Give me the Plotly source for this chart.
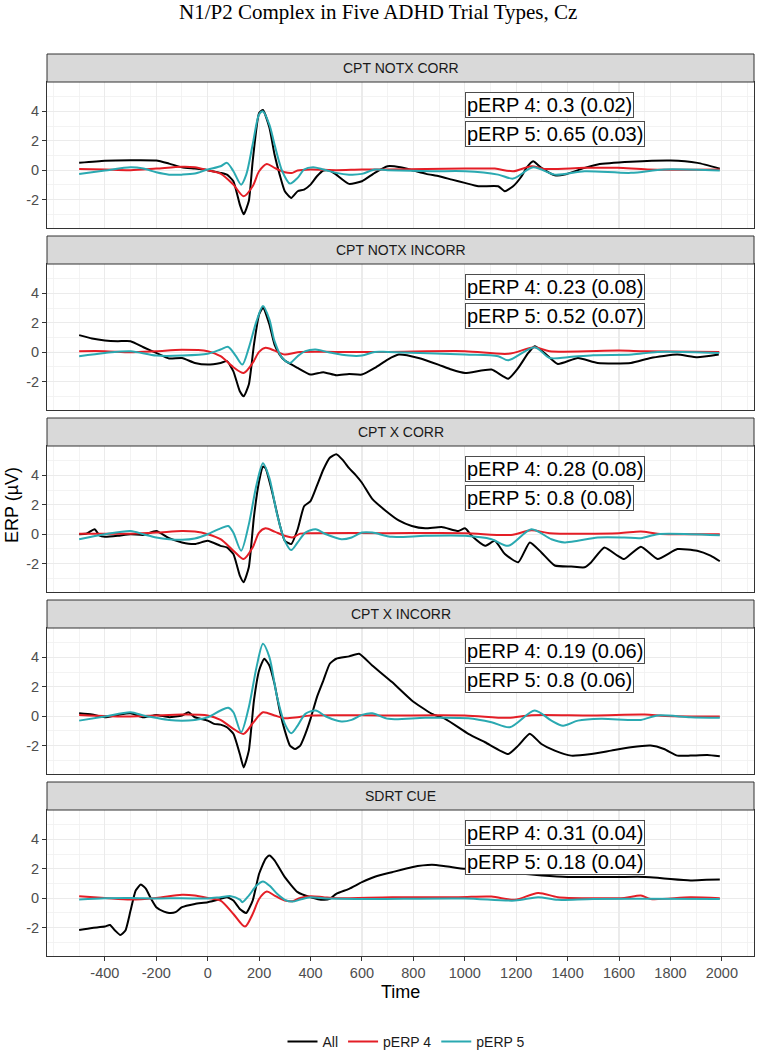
import plotly.graph_objects as go

# ---------------- data ----------------
PANELS = ["CPT NOTX CORR", "CPT NOTX INCORR", "CPT X CORR", "CPT X INCORR", "SDRT CUE"]
SERIES = ["All", "pERP 4", "pERP 5"]
X_TICKS = [-400, -200, 0, 200, 400, 600, 800, 1000, 1200, 1400, 1600, 1800, 2000]
Y_TICKS = [-2, 0, 2, 4]

# Panel 1: CPT NOTX CORR
NOTXC_ALL_T = [-500,-400,-300,-200,-150,-100,-50,0,50,75,100,125,140,160,175,200,215,240,260,280,300,325,350,375,400,425,450,475,500,550,600,650,700,750,800,850,900,950,1000,1053,1130,1156,1188,1221,1240,1266,1298,1350,1388,1466,1517,1646,1801,1905,1992]
NOTXC_ALL_V = [0.5,0.64,0.68,0.66,0.45,0.2,0.11,0,-0.18,-0.3,-0.75,-2.34,-3.0,-2.1,0.6,3.9,4.1,2.9,1.07,-0.3,-1.43,-1.89,-1.43,-1.32,-0.98,-0.41,-0.02,-0.02,-0.3,-0.93,-0.75,-0.18,0.27,0.2,-0.02,-0.25,-0.41,-0.64,-0.86,-1.09,-1.09,-1.43,-1.09,-0.41,0.16,0.61,0.16,-0.34,-0.3,0.16,0.39,0.57,0.66,0.5,0.11]
NOTXC_P4_T = [-500,-400,-300,-200,-100,-50,0,50,100,140,175,200,230,260,300,330,350,400,500,600,700,850,1001,1117,1188,1259,1310,1466,1595,1711,1992]
NOTXC_P4_V = [0.09,0.05,0,0.11,0.23,0.2,0,-0.23,-0.98,-1.77,-1.09,-0.07,0.43,0.16,-0.14,-0.18,-0.02,0.05,0,0.05,0.05,0.08,0.11,0.11,-0.07,0.27,0.09,0.16,0.16,0.05,0.05]
NOTXC_P5_T = [-500,-400,-300,-250,-200,-150,-100,-50,0,50,75,100,130,150,175,200,215,240,260,290,320,350,375,410,450,500,550,600,650,700,872,1001,1130,1188,1266,1350,1466,1646,1775,1992]
NOTXC_P5_V = [-0.25,-0.02,0.2,0.11,-0.14,-0.3,-0.3,-0.23,0.05,0.27,0.5,-0.07,-0.98,-0.3,1.75,3.8,4.0,3.1,1.75,-0.07,-0.91,-0.52,0.05,0.2,0.05,-0.18,-0.3,-0.25,0.05,0,-0.07,-0.07,-0.3,-0.57,0.2,-0.3,-0.07,-0.18,0.05,-0.02]

# Panel 2: CPT NOTX INCORR
NOTXI_ALL_T = [-500,-450,-400,-350,-300,-250,-200,-150,-100,-50,0,50,75,100,125,140,160,180,200,215,240,260,280,300,350,400,450,500,550,600,650,700,743,820,897,948,1001,1104,1169,1208,1247,1272,1310,1362,1440,1517,1646,1723,1826,1905,1988]
NOTXI_ALL_V = [1.16,0.93,0.8,0.75,0.75,0.34,-0.05,-0.43,-0.39,-0.73,-0.84,-0.73,-0.61,-1.3,-2.66,-3.0,-2.2,0.52,2.57,3.02,1.89,0.52,-0.16,-0.57,-1.07,-1.52,-1.36,-1.57,-1.48,-1.52,-1.07,-0.5,-0.16,-0.39,-0.84,-1.18,-1.41,-1.18,-1.8,-1.07,-0.05,0.41,-0.05,-0.8,-0.39,-0.73,-0.73,-0.39,-0.16,-0.34,-0.16]
NOTXI_P4_T = [-500,-400,-300,-200,-100,0,50,100,140,175,200,225,260,300,350,500,700,1001,1169,1272,1330,1600,1700,1990]
NOTXI_P4_V = [0.07,0.07,0,0.07,0.16,0.07,-0.27,-1.02,-1.41,-0.73,0.02,0.3,0.11,-0.16,0,0.02,0.02,0.07,-0.11,0.34,0.07,0.11,0.07,0.02]
NOTXI_P5_T = [-500,-400,-300,-200,-100,0,50,80,110,135,160,190,215,240,260,290,320,350,380,420,470,550,600,650,700,1001,1130,1169,1272,1330,1400,1500,1650,1750,1990]
NOTXI_P5_V = [-0.27,-0.05,0.07,-0.23,-0.23,-0.11,0.18,0.36,-0.27,-0.84,0.3,2.11,3.14,2.23,0.75,-0.39,-0.73,-0.27,0.07,0.18,0,-0.23,-0.23,0.02,0.02,-0.16,-0.27,-0.55,0.34,-0.39,-0.34,-0.2,-0.16,0.02,-0.05]

# Panel 3: CPT X CORR
XC_ALL_T = [-500,-470,-440,-420,-400,-350,-300,-250,-200,-150,-100,-50,0,50,75,100,125,140,160,180,200,215,225,250,280,300,325,350,375,400,425,450,475,500,525,550,575,600,640,692,743,794,846,910,975,1001,1027,1079,1117,1156,1208,1253,1298,1350,1414,1466,1492,1543,1594,1620,1685,1750,1827,1904,1956,1992]
XC_ALL_V = [0,0.05,0.34,-0.1,-0.18,-0.11,0,-0.05,0.22,-0.27,-0.56,-0.67,-0.45,-0.79,-0.9,-1.35,-2.81,-3.26,-2.25,1.2,3.6,4.6,4.5,2.92,0.67,-0.45,-0.67,0.34,1.9,2.25,3.3,4.4,5.2,5.44,5.06,4.49,4.04,3.5,2.4,1.6,0.94,0.56,0.4,0.49,0.22,0.4,-0.11,-0.79,-0.45,-1.35,-1.91,-0.56,-1.24,-2.13,-2.2,-2.25,-1.9,-0.9,-1.46,-1.69,-0.85,-1.69,-1.01,-1.12,-1.46,-1.84]
XC_P4_T = [-500,-300,-200,-100,-50,0,50,100,140,175,200,225,260,300,330,360,400,700,1000,1180,1259,1330,1600,1685,1750,1992]
XC_P4_V = [0.04,0.04,0.11,0.22,0.18,0,-0.34,-1.12,-1.69,-0.9,0.11,0.4,0.18,-0.11,-0.22,0.04,0.07,0.07,0.07,-0.05,0.27,0.07,0.07,0.18,0.04,0]
XC_P5_T = [-500,-400,-300,-250,-200,-150,-100,-50,0,50,80,100,130,160,190,215,240,270,300,325,350,380,420,460,520,560,600,640,717,846,1001,1104,1169,1259,1337,1388,1440,1517,1620,1685,1750,1878,1992]
XC_P5_V = [-0.34,0,0.22,0,-0.22,-0.34,-0.38,-0.29,0,0.4,0.56,0.1,-1.12,0.67,3.37,4.83,3.82,1.35,-0.45,-1.08,-0.56,0.11,0.34,0,-0.34,-0.22,0.11,0.11,-0.18,-0.11,-0.11,-0.34,-0.79,0.34,-0.34,-0.56,-0.45,-0.22,-0.22,-0.27,0,0,-0.07]

# Panel 4: CPT X INCORR
XI_ALL_T = [-500,-450,-400,-350,-300,-250,-200,-150,-100,-75,-50,0,25,50,75,100,125,140,160,180,200,220,240,260,280,300,320,340,360,380,400,425,450,475,500,550,589,640,717,794,872,924,1014,1079,1169,1208,1253,1298,1350,1414,1492,1569,1646,1723,1775,1827,1878,1943,1992]
XI_ALL_V = [0.2,0.11,-0.07,0.09,0.2,-0.07,0.09,-0.07,0.05,0.27,-0.07,-0.3,-0.52,-0.57,-0.75,-1.2,-2.57,-3.48,-2.34,1.07,3.11,3.91,3.45,2.2,0.39,-0.98,-2.0,-2.23,-2.0,-1.2,-0.18,1.3,2.43,3.57,3.91,4.07,4.25,3.45,2.32,1.07,0.16,-0.18,-1.2,-1.77,-2.57,-2.0,-1.2,-1.89,-2.34,-2.68,-2.57,-2.34,-2.11,-2.0,-2.23,-2.68,-2.68,-2.64,-2.73]
XI_P4_T = [-500,-300,-200,-100,0,50,100,140,175,215,260,300,350,400,700,1000,1169,1260,1500,1700,1780,1992]
XI_P4_V = [0.09,-0.02,0.05,0.11,0.05,-0.25,-0.86,-1.2,-0.48,0.27,0.05,-0.14,-0.07,0.05,0.05,0.05,-0.11,0.07,0.05,0.11,0.02,-0.02]
XI_P5_T = [-500,-400,-300,-250,-200,-150,-100,-50,0,50,80,100,130,160,190,215,240,270,300,325,350,380,420,460,520,560,600,640,704,846,1014,1104,1175,1272,1337,1382,1440,1530,1685,1750,1878,1992]
XI_P5_V = [-0.3,-0.02,0.27,0.05,-0.11,-0.25,-0.3,-0.25,-0.07,0.39,0.57,0.27,-1.09,0.61,3.34,4.93,4.02,1.3,-0.52,-1.16,-0.64,0.16,0.39,-0.02,-0.36,-0.25,0.09,0.2,-0.18,-0.11,-0.14,-0.41,-0.75,0.39,-0.3,-0.64,-0.3,-0.18,-0.25,0.05,-0.07,-0.11]

# Panel 5: SDRT CUE
SC_ALL_T = [-500,-450,-400,-380,-360,-340,-320,-300,-280,-260,-240,-220,-200,-170,-150,-125,-100,-50,0,50,75,100,125,150,175,200,225,240,260,300,350,400,450,475,500,550,600,653,717,794,872,924,1001,1100,1200,1300,1400,1500,1600,1700,1750,1800,1878,1940,1992]
SC_ALL_V = [-2.16,-2.02,-1.93,-1.82,-2.2,-2.5,-2.2,-0.84,0.52,0.93,0.64,-0.05,-0.61,-0.91,-1.0,-0.95,-0.61,-0.39,-0.27,-0.05,0.07,-0.16,-0.73,-1.0,-0.16,1.66,2.68,2.91,2.57,1.43,0.41,0.07,-0.11,-0.05,0.3,0.64,1.09,1.48,1.77,2.11,2.27,2.18,2.0,1.9,1.7,1.55,1.45,1.45,1.45,1.45,1.39,1.3,1.2,1.25,1.27]
SC_P4_T = [-500,-400,-300,-200,-100,-50,0,50,100,145,175,200,230,260,300,330,360,400,450,500,717,975,1104,1195,1285,1362,1492,1620,1685,1723,1878,1992]
SC_P4_V = [0.14,0.02,-0.09,0.02,0.23,0.18,0.02,-0.16,-1.07,-1.93,-1.07,-0.05,0.45,0.18,-0.16,-0.2,0.02,0.14,0.07,0,0.07,0.07,0.11,-0.11,0.36,0.07,0,0.02,0.18,-0.05,0.07,0]
SC_P5_T = [-500,-400,-300,-200,-100,0,50,90,125,135,160,190,215,240,270,300,330,360,400,450,600,1000,1195,1285,1362,1500,1992]
SC_P5_V = [-0.09,0,0.02,-0.02,0,-0.02,0.07,0.14,-0.09,-0.27,0.18,0.86,1.14,0.86,0.3,-0.11,-0.23,-0.09,0.07,0,-0.05,-0.02,-0.16,0.07,-0.11,-0.05,-0.05]

# Label values: estimate (SE)
PERP4_EST = [0.3, 0.23, 0.28, 0.19, 0.31]
PERP4_SE = [0.02, 0.08, 0.08, 0.06, 0.04]
PERP5_EST = [0.65, 0.52, 0.8, 0.8, 0.18]
PERP5_SE = [0.03, 0.07, 0.08, 0.06, 0.04]

PANEL_DATA = [
    [(NOTXC_ALL_T, NOTXC_ALL_V), (NOTXC_P4_T, NOTXC_P4_V), (NOTXC_P5_T, NOTXC_P5_V)],
    [(NOTXI_ALL_T, NOTXI_ALL_V), (NOTXI_P4_T, NOTXI_P4_V), (NOTXI_P5_T, NOTXI_P5_V)],
    [(XC_ALL_T, XC_ALL_V), (XC_P4_T, XC_P4_V), (XC_P5_T, XC_P5_V)],
    [(XI_ALL_T, XI_ALL_V), (XI_P4_T, XI_P4_V), (XI_P5_T, XI_P5_V)],
    [(SC_ALL_T, SC_ALL_V), (SC_P4_T, SC_P4_V), (SC_P5_T, SC_P5_V)],
]

# ---------------- style / layout ----------------
W, H = 758, 1050
COLORS = ["#000000", "#E41E26", "#2AA9B1"]
SANS = "Liberation Sans, Arial, Helvetica, sans-serif"
PANEL_TOPS = [82, 264, 446, 628, 810]   # px
PANEL_H = 146
STRIP_H = 28
X_RANGE = [-625, 2125]
Y_RANGE = [-3.93, 6.0]
ML, MR = 47, 4
PW = W - ML - MR


def py(px):
    return 1 - px / H


def pxx(px):
    return (px - ML) / PW


fig = go.Figure()
for i, data in enumerate(PANEL_DATA):
    sfx = "" if i == 0 else str(i + 1)
    for s, (t, v) in enumerate(data):
        assert len(t) == len(v)
        fig.add_trace(go.Scatter(
            x=t, y=v, mode="lines", name=SERIES[s], legendgroup=SERIES[s],
            showlegend=(i == 0),
            line=dict(color=COLORS[s], width=2, shape="spline",
                      smoothing=0.5 if s == 0 else 0.8),
            xaxis="x" + sfx, yaxis="y" + sfx, hoverinfo="skip"))

layout = dict(
    template="none",
    width=W, height=H, autosize=False,
    margin=dict(l=ML, r=MR, t=0, b=0, pad=0, autoexpand=False),
    paper_bgcolor="white", plot_bgcolor="white",
    font=dict(family=SANS, color="#1A1A1A"),
    showlegend=True,
    legend=dict(orientation="h", x=pxx(406), xanchor="center", y=py(1042), yanchor="middle",
                font=dict(size=14, family=SANS, color="#1A1A1A"), itemwidth=30,
                bgcolor="rgba(0,0,0,0)"),
)
shapes, annots = [], []
for i, name in enumerate(PANELS):
    sfx = "" if i == 0 else str(i + 1)
    top = PANEL_TOPS[i]
    bottom = top + PANEL_H
    last = i == len(PANELS) - 1
    layout["xaxis" + sfx] = dict(
        domain=[0, 1], range=X_RANGE, anchor="y" + sfx, automargin=False,
        tickvals=X_TICKS, ticktext=[str(v) for v in X_TICKS],
        showticklabels=last, ticks="outside" if last else "", ticklen=4,
        tickcolor="#333333", tickfont=dict(size=14.5, color="#4D4D4D", family=SANS),
        showgrid=True, gridcolor="#EBEBEB", gridwidth=1.2,
        minor=dict(dtick=100, tick0=-500, showgrid=True, gridcolor="#F0F0F0", gridwidth=0.8),
        showline=True, mirror=True, linecolor="#333333", linewidth=1, zeroline=False)
    layout["yaxis" + sfx] = dict(
        domain=[py(bottom), py(top)], range=Y_RANGE, anchor="x" + sfx, automargin=False,
        tickvals=Y_TICKS, ticktext=[str(v) for v in Y_TICKS],
        ticks="outside", ticklen=4, tickcolor="#333333",
        tickfont=dict(size=14.5, color="#4D4D4D", family=SANS),
        showgrid=True, gridcolor="#EBEBEB", gridwidth=1.2,
        minor=dict(dtick=1, tick0=0, showgrid=True, gridcolor="#F0F0F0", gridwidth=0.8),
        showline=True, mirror=True, linecolor="#333333", linewidth=1, zeroline=False)
    # facet strip
    shapes.append(dict(type="rect", xref="paper", yref="paper", x0=0, x1=1,
                       y0=py(top), y1=py(top - STRIP_H), fillcolor="#D9D9D9",
                       line=dict(color="#333333", width=1), layer="above"))
    annots.append(dict(xref="paper", yref="paper", x=0.5, y=py(top - STRIP_H / 2),
                       text=name, showarrow=False, xanchor="center", yanchor="middle",
                       font=dict(size=14, color="#1A1A1A", family=SANS)))
    # labels
    for j, (est, se, yv) in enumerate([(PERP4_EST[i], PERP4_SE[i], 4.45),
                                      (PERP5_EST[i], PERP5_SE[i], 2.45)]):
        annots.append(dict(xref="x" + sfx, yref="y" + sfx, x=1000, y=yv,
                           text=f"pERP {4 + j}: {est} ({se})", showarrow=False,
                           xanchor="left", yanchor="middle",
                           font=dict(size=20, color="#000000", family=SANS),
                           bgcolor="white", bordercolor="#4D4D4D", borderwidth=1,
                           borderpad=1))

# titles
annots.append(dict(xref="paper", yref="paper", x=pxx(378), y=py(12),
                   text="N1/P2 Complex in Five ADHD Trial Types, Cz", showarrow=False,
                   xanchor="center", yanchor="middle",
                   font=dict(size=21, color="#000000", family="Liberation Serif, Times New Roman, serif")))
annots.append(dict(xref="paper", yref="paper", x=pxx(400), y=py(992), text="Time",
                   showarrow=False, xanchor="center", yanchor="middle",
                   font=dict(size=18, color="#000000", family=SANS)))
annots.append(dict(xref="paper", yref="paper", x=pxx(12), y=py(505),
                   text="ERP (\u00b5V)", showarrow=False, textangle=-90,
                   xanchor="center", yanchor="middle",
                   font=dict(size=18, color="#000000", family=SANS)))

layout["shapes"] = shapes
layout["annotations"] = annots
fig.update_layout(**layout)
fig.write_html(
    "out.html",
    config={"displayModeBar": False, "staticPlot": True},
    post_script="document.body.style.margin='0';document.body.style.overflow='hidden';")
